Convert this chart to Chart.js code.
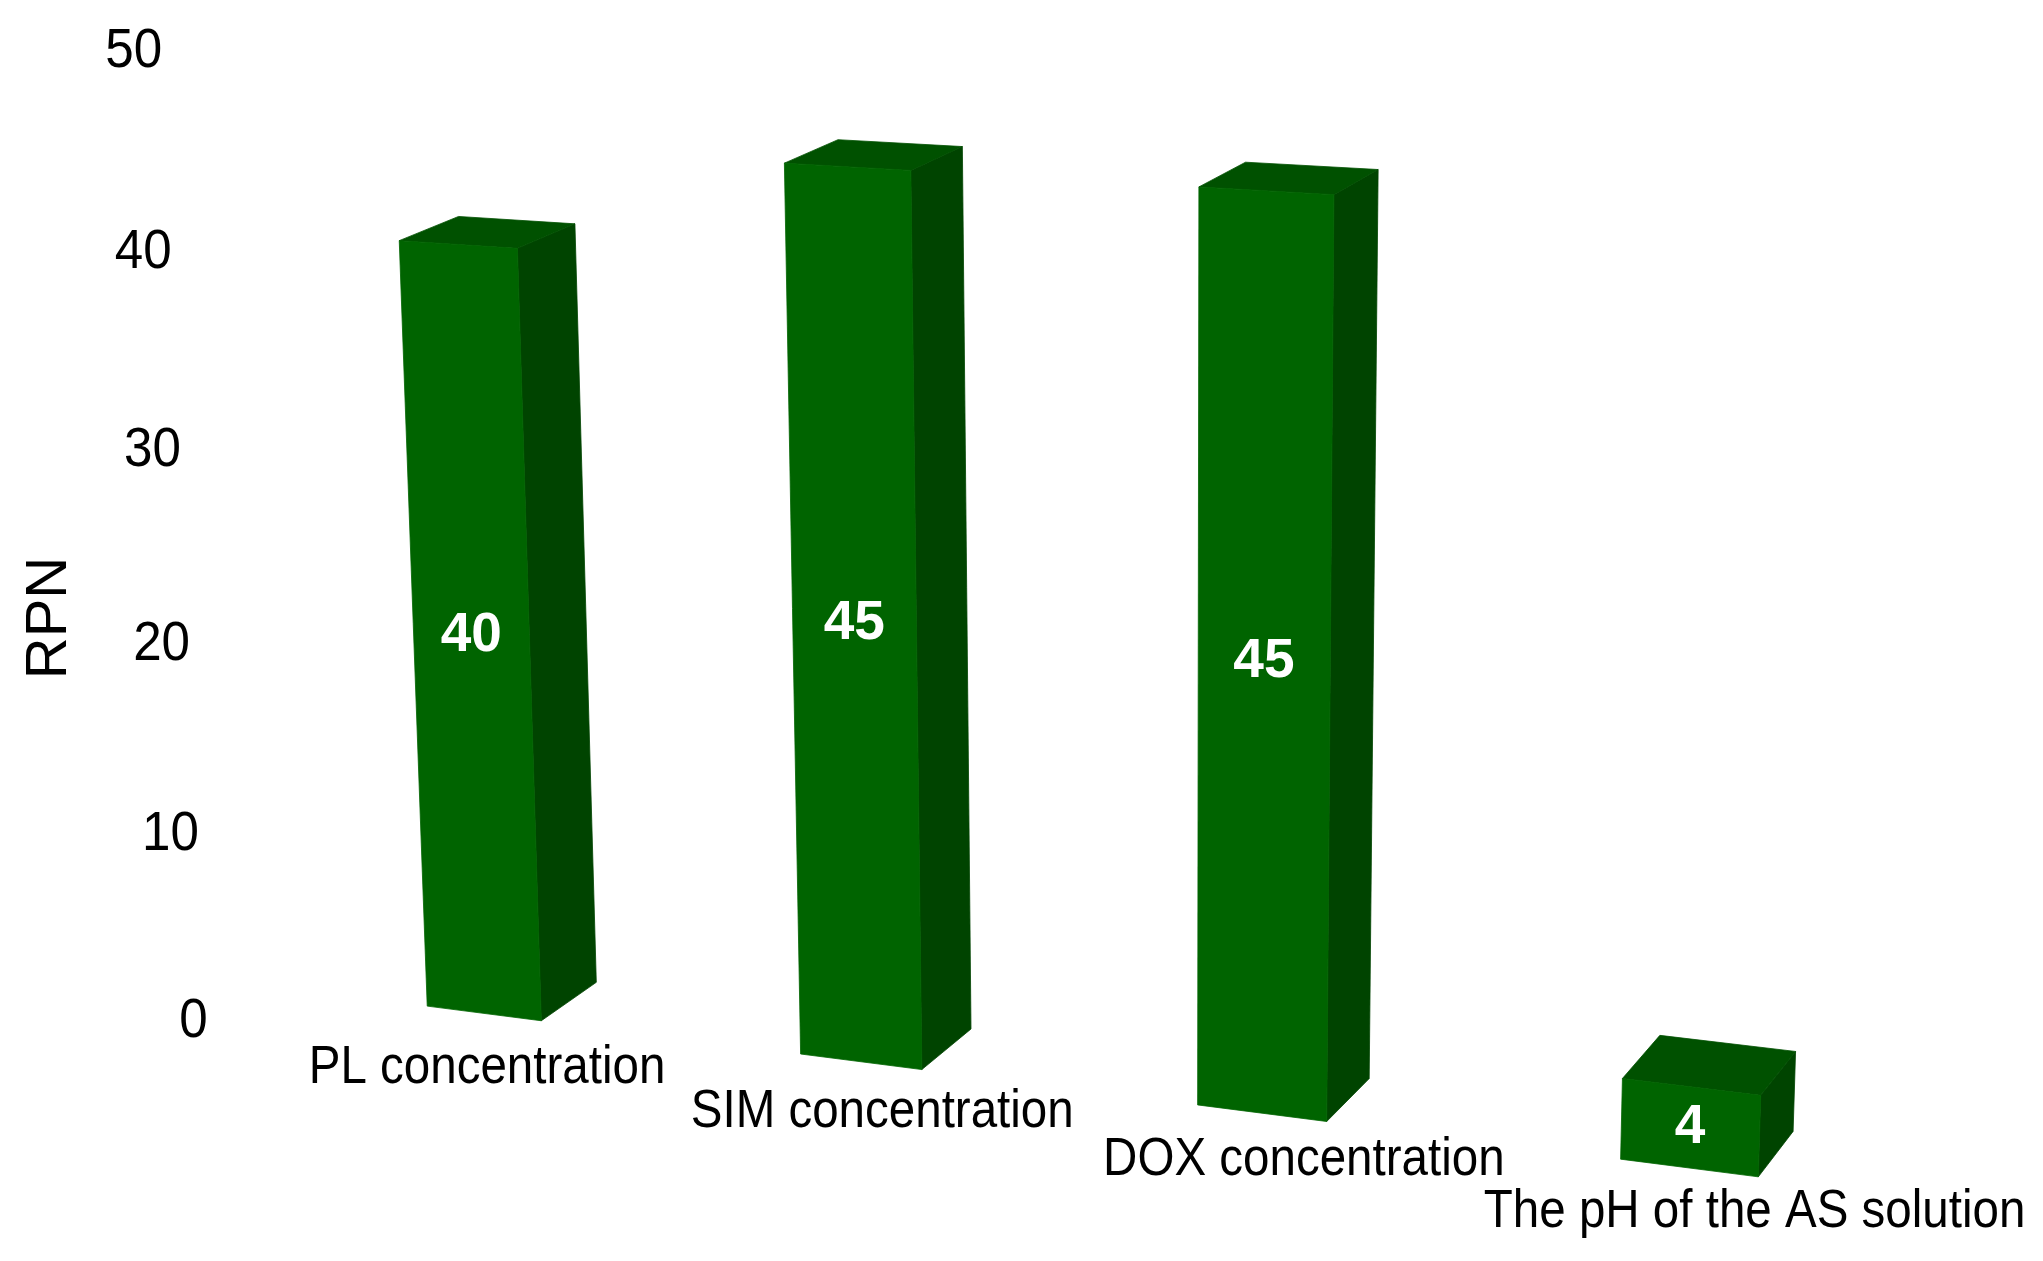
<!DOCTYPE html>
<html>
<head>
<meta charset="utf-8">
<script src="https://cdn.jsdelivr.net/npm/chart.js@4.4.1/dist/chart.umd.min.js"></script>
<style>
  html, body { margin: 0; padding: 0; background: #ffffff; }
  #wrap { width: 2043px; height: 1261px; position: relative; }
  canvas { display: block; }
</style>
</head>
<body>
<div id="wrap"><canvas id="c" width="2043" height="1261"></canvas></div>
<script>
// ---- data ----
const categories = ['PL concentration', 'SIM concentration', 'DOX concentration', 'The pH of the AS solution'];
const rpnValues = [40, 45, 45, 4];
const yTickValues = [0, 10, 20, 30, 40, 50];
const axisTitle = 'RPN';

// ---- perspective view (camera) of the 3-D chart box ----
// world coords: u = category index (from x scale), v = value (from y scale), z = depth (0 front, 1 back)
const VIEW = {
  ax: 351.2, bx: -1.067, gx: 66.3, cx: 484,
  ay: 16.6,  by: -19.446, gy: -19.2, cy: 1013.4,
  aw: -0.0299, bw: -0.000912, gw: 0.0194
};
function project(u, v, z) {
  const w = 1 + VIEW.aw * u + VIEW.bw * v + VIEW.gw * z;
  return {
    x: (VIEW.ax * u + VIEW.bx * v + VIEW.gx * z + VIEW.cx) / w,
    y: (VIEW.ay * u + VIEW.by * v + VIEW.gy * z + VIEW.cy) / w
  };
}

const COLORS = { front: '#006400', side: '#004400', top: '#005100', text: '#000000', value: '#ffffff' };
const FONT = '"Liberation Sans", Arial, Helvetica, sans-serif';

function poly(ctx, pts, color) {
  ctx.beginPath();
  ctx.moveTo(pts[0].x, pts[0].y);
  for (let i = 1; i < pts.length; i++) ctx.lineTo(pts[i].x, pts[i].y);
  ctx.closePath();
  ctx.fillStyle = color;
  ctx.fill();
  ctx.strokeStyle = color;
  ctx.lineWidth = 0.8;
  ctx.stroke();
}

function condensedText(ctx, text, x, y, sx, align) {
  ctx.save();
  ctx.translate(x, y);
  ctx.scale(sx, 1);
  ctx.textAlign = align;
  ctx.textBaseline = 'middle';
  ctx.fillText(text, 0, 0);
  ctx.restore();
}

function geom(chart) {
  const xs = chart.scales.x, ys = chart.scales.y;
  const x0 = xs.getPixelForValue(0);
  const spacing = xs.getPixelForValue(1) - x0;
  return { xs, ys, x0, spacing };
}

const prismPlugin = {
  id: 'prism3d',
  beforeDatasetsDraw(chart) {
    const ctx = chart.ctx;
    const g = geom(chart);
    const meta = chart.getDatasetMeta(0);
    meta.data.forEach((el) => {
      const p = el.getProps(['x', 'y', 'base', 'width'], true);
      const u = (p.x - g.x0) / g.spacing;
      const h = (p.width / 2) / g.spacing;
      const vt = g.ys.getValueForPixel(p.y);
      const vb = g.ys.getValueForPixel(p.base);
      const fbl = project(u - h, vb, 0), fbr = project(u + h, vb, 0);
      const ftr = project(u + h, vt, 0), ftl = project(u - h, vt, 0);
      const bbr = project(u + h, vb, 1), btr = project(u + h, vt, 1), btl = project(u - h, vt, 1);
      poly(ctx, [fbr, bbr, btr, ftr], COLORS.side);
      poly(ctx, [ftl, ftr, btr, btl], COLORS.top);
      poly(ctx, [fbl, fbr, ftr, ftl], COLORS.front);
    });
    return false;
  },
  afterDraw(chart) {
    const ctx = chart.ctx;
    const g = geom(chart);
    const meta = chart.getDatasetMeta(0);

    // value labels on bar fronts
    ctx.fillStyle = COLORS.value;
    ctx.font = 'bold 55px ' + FONT;
    meta.data.forEach((el, i) => {
      const p = el.getProps(['x', 'y', 'base'], true);
      const u = (p.x - g.x0) / g.spacing;
      const vt = g.ys.getValueForPixel(p.y);
      const vb = g.ys.getValueForPixel(p.base);
      const c = project(u, (vt + vb) / 2, 0);
      condensedText(ctx, String(rpnValues[i]), c.x, c.y, 1, 'center');
    });

    // value-axis tick labels
    ctx.fillStyle = COLORS.text;
    ctx.font = '55px ' + FONT;
    const ticks = (g.ys.ticks && g.ys.ticks.length) ? g.ys.ticks.map(t => t.value) : yTickValues;
    ticks.forEach((t) => {
      const a = project(-0.586, t, -0.928);
      condensedText(ctx, String(t), a.x - 9, a.y, 0.93, 'right');
    });

    // category labels
    ctx.font = '54px ' + FONT;
    categories.forEach((lab, i) => {
      const u = (g.xs.getPixelForValue(i) - g.x0) / g.spacing;
      const a = project(u * 1.05, -3, 0.02);
      condensedText(ctx, lab, a.x, a.y - 8 * u, 0.88, 'center');
    });

    // axis title
    ctx.save();
    ctx.font = '58px ' + FONT;
    ctx.translate(50, 618);
    ctx.rotate(-Math.PI / 2);
    ctx.textAlign = 'center';
    ctx.textBaseline = 'middle';
    ctx.fillText(axisTitle, 0, 0);
    ctx.restore();
  }
};

new Chart(document.getElementById('c').getContext('2d'), {
  type: 'bar',
  data: {
    labels: categories,
    datasets: [{
      label: axisTitle,
      data: rpnValues,
      backgroundColor: COLORS.front,
      barPercentage: 0.312,
      categoryPercentage: 1
    }]
  },
  options: {
    responsive: false,
    devicePixelRatio: 1,
    animation: false,
    events: [],
    layout: { padding: 0 },
    plugins: { legend: { display: false }, tooltip: { enabled: false } },
    scales: {
      x: { display: false, offset: true },
      y: {
        display: false, min: 0, max: 50,
        ticks: { stepSize: 10 },
        afterBuildTicks: (s) => { s.ticks = yTickValues.map(v => ({ value: v })); }
      }
    }
  },
  plugins: [prismPlugin]
});
</script>
</body>
</html>
